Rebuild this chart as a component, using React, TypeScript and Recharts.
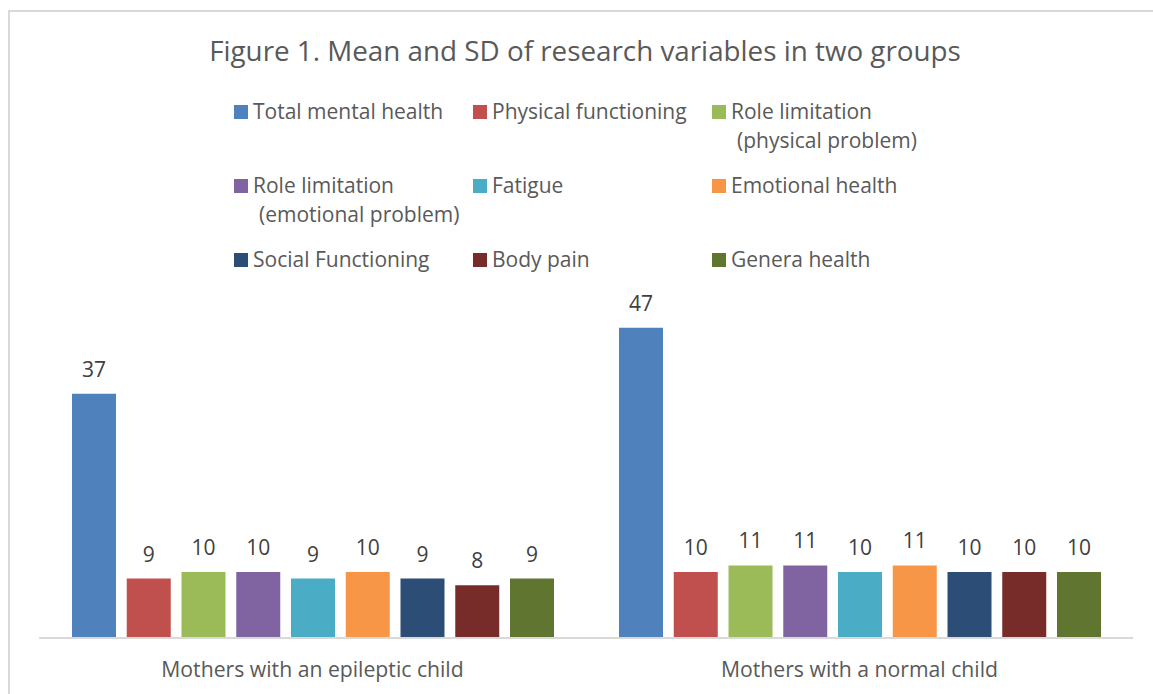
import React from 'react';
import { BarChart, Bar, XAxis, YAxis, LabelList, Legend } from 'recharts';

const groups = ['Mothers with an epileptic child', 'Mothers with a normal child'];
const seriesKeys = ['tmh', 'pf', 'rlp', 'rle', 'fat', 'eh', 'sf', 'bp', 'gh'];
const seriesNames = [
  'Total mental health',
  'Physical functioning',
  'Role limitation (physical problem)',
  'Role limitation (emotional problem)',
  'Fatigue',
  'Emotional health',
  'Social Functioning',
  'Body pain',
  'Genera health',
];
const legendLines = [
  ['Total mental health'],
  ['Physical functioning'],
  ['Role limitation', '(physical problem)'],
  ['Role limitation', '(emotional problem)'],
  ['Fatigue'],
  ['Emotional health'],
  ['Social Functioning'],
  ['Body pain'],
  ['Genera health'],
];
const totalMentalHealth = [37, 47];
const physicalFunctioning = [9, 10];
const roleLimitationPhysical = [10, 11];
const roleLimitationEmotional = [10, 11];
const fatigue = [9, 10];
const emotionalHealth = [10, 11];
const socialFunctioning = [9, 10];
const bodyPain = [8, 10];
const generaHealth = [9, 10];
const seriesValues = [
  totalMentalHealth,
  physicalFunctioning,
  roleLimitationPhysical,
  roleLimitationEmotional,
  fatigue,
  emotionalHealth,
  socialFunctioning,
  bodyPain,
  generaHealth,
];
const colors = ['#4F81BD', '#C0504D', '#9BBB59', '#8064A2', '#4BACC6', '#F79646', '#2C4D75', '#772C2A', '#5F7530'];
const title = 'Figure 1. Mean and SD of research variables in two groups';

const data = groups.map((g, gi) => {
  const row: Record<string, string | number> = { group: g };
  seriesKeys.forEach((k, si) => {
    row[k] = seriesValues[si][gi];
  });
  return row;
});

const FONT = "'Open Sans', sans-serif";

const GroupTick = (props: any) => {
  const { x, y, payload } = props;
  return (
    <text x={x} y={y} dy={39} textAnchor="middle" fill="#595959" fontSize={21.2} fontFamily={FONT}>
      {payload.value}
    </text>
  );
};

const LegendContent = () => (
  <svg width={1153} height={300} style={{ display: 'block' }}>
    <text x={585} y={61} textAnchor="middle" fill="#595959" fontSize={27.8} fontFamily={FONT}>
      {title}
    </text>
    {legendLines.map((lines, i) => {
      const col = i % 3;
      const row = Math.floor(i / 3);
      const sx = 234 + col * 239;
      const sy = 105 + row * 74;
      return (
        <g key={seriesKeys[i]}>
          <rect x={sx} y={sy} width={14} height={14} fill={colors[i]} />
          <text x={sx + 19} y={sy + 14} fill="#595959" fontSize={21} fontFamily={FONT}>
            {lines[0]}
          </text>
          {lines[1] ? (
            <text x={sx + 25} y={sy + 43} fill="#595959" fontSize={21} fontFamily={FONT}>
              {lines[1]}
            </text>
          ) : null}
        </g>
      );
    })}
  </svg>
);

export default function App() {
  return (
    <div style={{ position: 'absolute', left: 0, top: 0, width: 1153, height: 694, background: '#fff', overflow: 'hidden' }}>
      <div
        style={{
          position: 'absolute',
          left: 8,
          top: 10,
          width: 1200,
          height: 800,
          borderLeft: '2px solid #d9d9d9',
          borderTop: '2px solid #d9d9d9',
        }}
      />
      <BarChart
        width={1153}
        height={694}
        data={data}
        margin={{ top: 308, right: 20, bottom: 0, left: 39 }}
        barSize={44}
        barGap={10.75}
        style={{ fontFamily: FONT }}
      >
        <XAxis
          dataKey="group"
          height={56}
          tickLine={false}
          tickSize={0}
          tickMargin={0}
          axisLine={{ stroke: '#d9d9d9', strokeWidth: 2 }}
          tick={<GroupTick />}
          interval={0}
        />
        <YAxis hide domain={[0, 50]} />
        <Legend
          layout="horizontal"
          verticalAlign="middle"
          align="center"
          content={<LegendContent />}
          wrapperStyle={{ left: 0, top: 0, width: 1153, height: 300, position: 'absolute' }}
        />
        {seriesKeys.map((k, i) => (
          <Bar key={k} dataKey={k} name={seriesNames[i]} fill={colors[i]} isAnimationActive={false}>
            <LabelList dataKey={k} position="top" offset={17} fill="#404040" fontSize={21} fontFamily={FONT} />
          </Bar>
        ))}
      </BarChart>
    </div>
  );
}
